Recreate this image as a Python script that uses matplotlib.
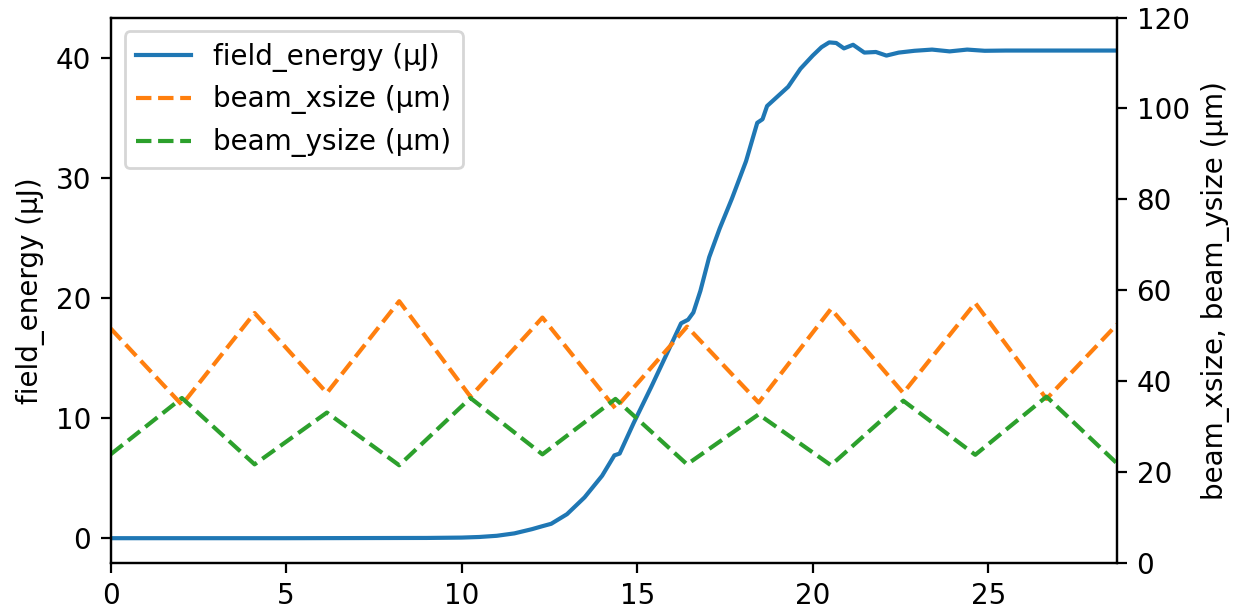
import matplotlib.pyplot as plt

# s position along the undulator (m)
s_energy = [0.0, 5.0, 9.0, 10.0, 10.5, 11.0, 11.5, 12.0, 12.3, 12.55, 13.0, 13.5,
            14.0, 14.35, 14.5, 14.9, 15.4, 15.85, 16.25, 16.45, 16.6, 16.8, 17.05,
            17.35, 17.7, 18.1, 18.42, 18.57, 18.7, 19.0, 19.3, 19.65, 20.0, 20.25,
            20.47, 20.67, 20.89, 21.15, 21.47, 21.8, 22.1, 22.45, 22.9, 23.4,
            23.9, 24.4, 24.9, 25.5, 28.67]
field_energy = [0.0, 0.0, 0.02, 0.05, 0.1, 0.2, 0.4, 0.75, 1.0, 1.2, 2.0, 3.4,
                5.2, 6.9, 7.05, 9.6, 12.6, 15.4, 17.9, 18.2, 18.8, 20.6, 23.4,
                25.8, 28.3, 31.4, 34.6, 34.9, 36.0, 36.8, 37.6, 39.1, 40.2, 40.9,
                41.3, 41.25, 40.8, 41.1, 40.45, 40.5, 40.2, 40.45, 40.6, 40.7,
                40.55, 40.7, 40.6, 40.62, 40.62]

s_beam = [0.0, 2.03, 4.1, 6.16, 8.22, 10.25, 12.3, 14.38, 16.42, 18.46, 20.52,
          22.58, 24.63, 26.66, 28.67]
beam_xsize = [51.6, 34.8, 55.0, 37.4, 57.6, 36.6, 54.0, 34.0, 52.0, 35.3, 55.9,
              37.4, 57.2, 36.1, 52.5]
beam_ysize = [23.9, 36.3, 21.7, 33.1, 21.5, 36.3, 23.9, 36.1, 21.7, 32.7, 21.5,
              35.7, 23.8, 36.6, 21.9]

fig, ax = plt.subplots(figsize=(6.175, 3.065), dpi=200)
fig.subplots_adjust(left=0.0896, right=0.9045, bottom=0.0816, top=0.9713)

l1, = ax.plot(s_energy, field_energy, color="tab:blue", label="field_energy (μJ)")
ax.set_ylabel("field_energy (μJ)")
ax.set_xlim(0, 28.67)

ax2 = ax.twinx()
l2, = ax2.plot(s_beam, beam_xsize, "--", color="tab:orange", label="beam_xsize (μm)")
l3, = ax2.plot(s_beam, beam_ysize, "--", color="tab:green", label="beam_ysize (μm)")
ax2.set_ylim(0, 120)
ax2.set_ylabel("beam_xsize, beam_ysize (μm)")

ax2.legend(handles=[l1, l2, l3], loc="upper left")

plt.savefig("out.png", dpi=200)
